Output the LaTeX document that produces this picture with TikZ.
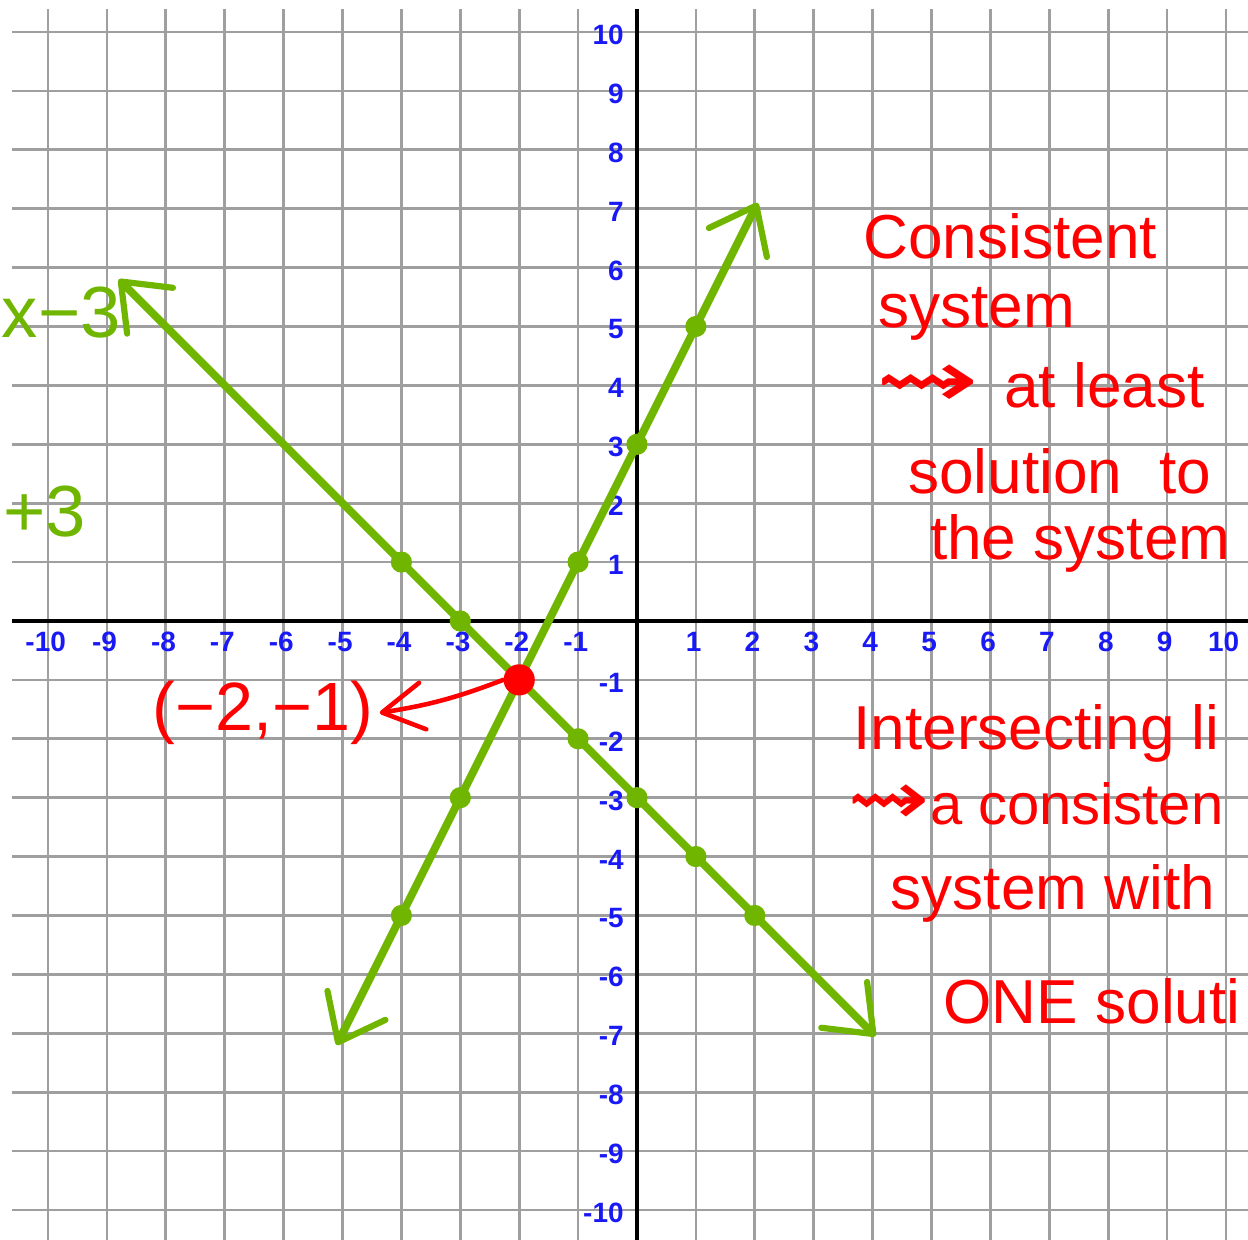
\documentclass[tikz,border=0pt]{standalone}
\usepackage{amssymb}
\usepackage{fontspec}
\setmainfont{Liberation Sans}
\newfontfamily\arrowfont{DejaVu Sans}
\usepackage{tikz}
\usetikzlibrary{arrows.meta}
\definecolor{lgreen}{RGB}{112,182,0}
\definecolor{tickblue}{RGB}{25,25,245}
\newcommand{\squig}[1][2]{\scalebox{#1}[1.3]{\arrowfont ⇝}}

\begin{document}
\begin{tikzpicture}[
    gridline/.style={draw=gray!75, line width=1.3pt},
    axisline/.style={draw=black, line width=2pt},
    ticklab/.style={text=tickblue, inner sep=0pt,
                    font=\bfseries\fontsize{13.5}{15}\selectfont},
    gline/.style={draw=lgreen, line width=3.8pt, line cap=round,
                  >={Straight Barb[length=7mm, width=11mm, line width=3pt, round]}, <->},
    gdot/.style={circle, fill=lgreen, inner sep=0pt, minimum size=3.6mm},
    rdot/.style={circle, fill=red, inner sep=0pt, minimum size=5.3mm},
    note/.style={text=red, anchor=base west, inner sep=0pt,
                 font=\fontsize{30}{34}\selectfont},
    eqn/.style={text=lgreen, anchor=base west, inner sep=0pt,
                font=\fontsize{35}{40}\selectfont},
    redarr/.style={draw=red, line width=2.2pt, line cap=round,
                   -{Straight Barb[length=7mm, width=8mm, round]}}
]
\useasboundingbox (-10.815,-10.509) rectangle (10.374,10.543);

%% GRID
\foreach \k in {-10,...,10} {
    \draw[gridline] (\k,-10.51) -- (\k,10.39);
    \draw[gridline] (-10.61,\k) -- (10.374,\k);
}

%% AXES
\draw[axisline] (-10.61,0) -- (10.374,0);
\draw[axisline] (0,-10.51) -- (0,10.39);

%% TICK LABELS
\foreach \k in {-10,...,-1,1,2,...,10} {
    \node[ticklab] (xt\k) at (\k-0.04,-0.36) {\k};
    \node[ticklab, anchor=east] (yt\k) at (-0.22,\k-0.05) {\k};
}

%% LINE y = 2x + 3
\coordinate (aLow) at (-5.1,-7.2);
\coordinate (aHigh) at (2.05,7.1);
\draw[gline] (aLow) -- (aHigh);

%% LINE y = -x - 3
\coordinate (bHigh) at (-8.8,5.8);
\coordinate (bLow) at (4.05,-7.05);
\draw[gline] (bHigh) -- (bLow);

%% POINTS ON THE LINES
\node[gdot] (a1) at (1,5) {};
\node[gdot] (a2) at (0,3) {};
\node[gdot] (a3) at (-1,1) {};
\node[gdot] (a4) at (-3,-3) {};
\node[gdot] (a5) at (-4,-5) {};
\node[gdot] (b1) at (-4,1) {};
\node[gdot] (b2) at (-3,0) {};
\node[gdot] (b3) at (-1,-2) {};
\node[gdot] (b4) at (0,-3) {};
\node[gdot] (b5) at (1,-4) {};
\node[gdot] (b6) at (2,-5) {};

%% EQUATIONS (at the left edge)
\node[eqn] (eqb) at (-10.79,4.82) {x−3};
\node[eqn] (eqa) at (-10.77,1.43) {+3};

%% SOLUTION
\node[rdot] (sol) at (-2,-1) {};
\node[text=red, inner sep=0pt, font=\fontsize{33}{38}\selectfont]
    (soltxt) at (-6.35,-1.56) {(−2,−1)};
\draw[redarr] (sol.west) to[bend left=6] ([xshift=3pt]soltxt.east);

%% NOTES
\node[note] (c1) at (3.84,6.16) {Consistent};
\node[note] (c2) at (4.09,4.99) {system};
\node[note] (c3) at (4.04,3.63) {\squig\hspace{0.4em}at least};
\node[note] (c4) at (4.6,2.17) {solution\hspace{0.6em}to};
\node[note] (c5) at (4.97,1.04) {the system};

\node[note] (i1) at (3.67,-2.19) {Intersecting li};
\node[note, font=\fontsize{28}{32}\selectfont]
    (i2) at (3.57,-3.45) {\squig[1.7]a consisten};
\node[note] (i3) at (4.3,-4.9) {system with};
\node[note] (i4) at (5.2,-6.83) {ONE soluti};

\end{tikzpicture}
\end{document}
